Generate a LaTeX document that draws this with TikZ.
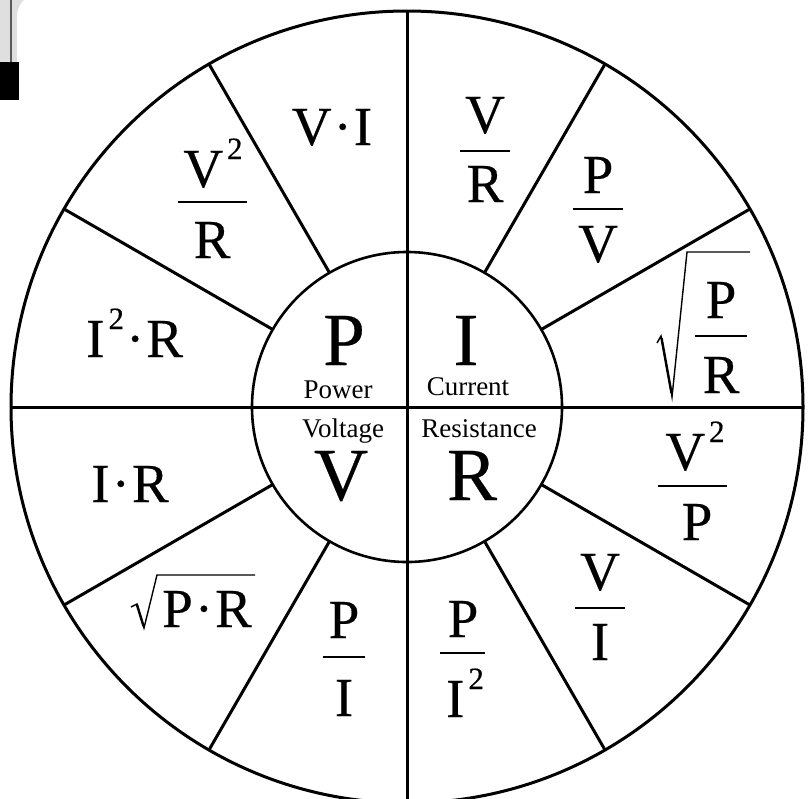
\documentclass[tikz,border=0pt]{standalone}
\usepackage{fontspec}
\setmainfont[FakeBold=0.3]{Liberation Serif}
\newfontfamily\lblfont{Liberation Serif}
\newcommand{\sqr}{\kern4pt\raisebox{28pt}{\fontsize{31}{31}\selectfont 2}}
\newcommand{\md}{\kern2pt·\kern2pt}
\begin{document}
\begin{tikzpicture}[x=1pt,y=-1pt,
  big/.style={font=\fontsize{75}{80}\selectfont, inner sep=0pt, anchor=base},
  fm/.style={font=\fontsize{55}{60}\selectfont, inner sep=0pt, anchor=base},
  lbl/.style={font=\lblfont\fontsize{27}{30}\selectfont, inner sep=0pt, anchor=base},
  bar/.style={line width=2.6pt},
  rad/.style={line width=1.4pt, line join=miter},
  ln/.style={line width=3pt}]
\useasboundingbox (0,0) rectangle (810,798);
\clip (0,0) rectangle (810,798);
\fill[white] (0,0) rectangle (810,798);
% artifact at top left
\fill[gray!25] (0,0) rectangle (17,62);
\fill[gray!25] (17,0) -- (24,0) .. controls (20,3) and (18,8) .. (17,14) -- cycle;
\draw[gray!70!black, line width=2pt] (11,0) -- (11,62);
\fill[black] (0,62) rectangle (19,100);
% wheel
\coordinate (c) at (407,407);
\draw[ln] (c) circle[radius=396pt];
\draw[line width=2.6pt] (c) circle[radius=155pt];
\draw[ln] (11,407) -- (803,407);
\draw[ln] (407,11) -- (407,803);
\foreach \a in {30,60,120,150,210,240,300,330}
  \draw[ln,shift={(c)}] (\a:155) -- (\a:396);
% centre
\node[big] (P) at (344,365) {P};
\node[big] (I) at (466,365) {I};
\node[big] (V) at (341,500) {V};
\node[big] (R) at (472,500) {R};
\node[lbl] (pw) at (338,398) {Power};
\node[lbl] (cu) at (468,395) {Current};
\node[lbl] (vo) at (343,437) {Voltage};
\node[lbl] (re) at (479,437) {Resistance};
% power formulas
\node[fm] (vi) at (332,145) {V\md I};
\node[fm] (v2rn) at (213,187) {V\sqr};
\draw[bar] (178,202) -- (247,202);
\node[fm] (v2rd) at (212,258) {R};
\node[fm, anchor=base west] (i2r) at (86,357) {I\sqr\md R};
% current formulas
\node[fm] (vrn) at (485,133) {V};
\draw[bar] (460,151) -- (510,151);
\node[fm] (vrd) at (485,202) {R};
\node[fm] (pvn) at (598,193) {P};
\draw[bar] (573,209) -- (623,209);
\node[fm] (pvd) at (598,262) {V};
\node[fm] (prn) at (721,318) {P};
\draw[bar] (695,336) -- (747,336);
\node[fm] (prd) at (721,393) {R};
\draw[rad] (657,343) -- (661,336) -- (672,397) -- (687,252) -- (750,252);
\draw[line width=2.4pt] (661.5,338) -- (671.5,393);
% resistance formulas
\node[fm] (v2pn) at (695,470) {V\sqr};
\draw[bar] (658,486) -- (727,486);
\node[fm] (v2pd) at (697,540) {P};
\node[fm] (vin) at (600,590) {V};
\draw[bar] (575,608) -- (625,608);
\node[fm] (vid) at (600,660) {I};
\node[fm] (pi2n) at (463,637) {P};
\draw[bar] (440,653) -- (485,653);
\node[fm] (pi2d) at (465,717) {I\sqr};
% voltage formulas
\node[fm] (pin) at (344,638) {P};
\draw[bar] (323,657) -- (365,657);
\node[fm] (pid) at (344,716) {I};
\node[fm] (pr) at (207,627) {P\md R};
\draw[rad] (131,607) -- (137,604) -- (144,628) -- (157,575) -- (255,575);
\draw[line width=2.4pt] (137,605) -- (143.5,626);
\node[fm] (ir) at (130,502) {I\md R};
\end{tikzpicture}
\end{document}
